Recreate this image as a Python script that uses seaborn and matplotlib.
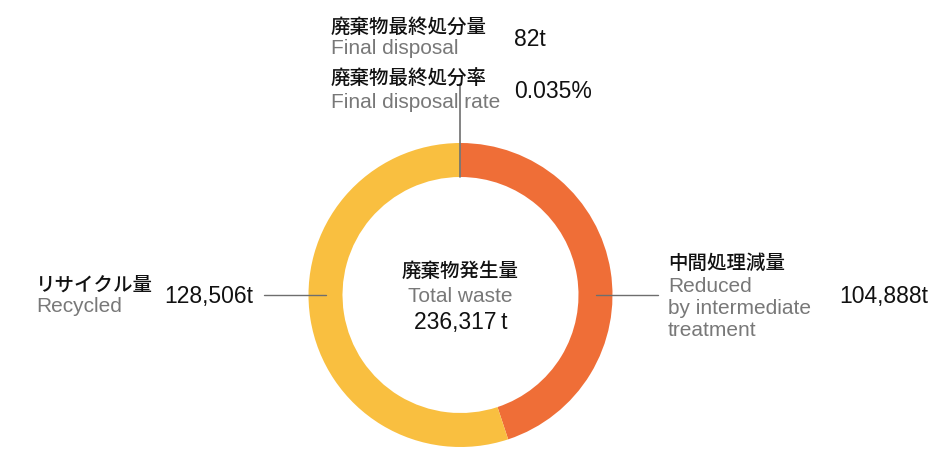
import matplotlib
matplotlib.use("Agg")
import numpy as np
import seaborn as sns
import matplotlib.pyplot as plt

# --- data ---
segments_jp = ["中間処理減量", "リサイクル量", "廃棄物最終処分量"]
segments_en = ["Reduced\nby intermediate\ntreatment", "Recycled", "Final disposal"]
amounts = [104888, 128506, 82]
amount_labels = ["104,888t", "128,506t", "82t"]
total_label = "236,317\u2009t"
rate_label = "0.035%"
seg_colors = ["#EF6E37", "#F9BF40", "#8A8A8A"]

sns.set_theme(style="white")
plt.rcParams["font.family"] = ["Liberation Sans", "DejaVu Sans", "Noto Sans CJK JP"]
JP = ["Noto Sans CJK JP", "DejaVu Sans"]
INK = "#111111"
GREY = "#787878"
LINE = "#6E6E6E"
EN_SIZE = 15
NUM_SIZE = 16.5
JP_WEIGHT = "medium"

W, H = 950, 449
fig = plt.figure(figsize=(W / 100, H / 100), dpi=100)
ax = fig.add_axes([0, 0, 1, 1])

cx, cy = 460.5, H - 295
r_out, ring = 152, 34

ax.pie(amounts, colors=seg_colors, startangle=90, counterclock=False,
       center=(cx, cy), radius=r_out,
       wedgeprops=dict(width=ring, linewidth=0))

ax.set_xlim(0, W)
ax.set_ylim(0, H)
ax.set_aspect("equal")
ax.axis("off")

def py(y):
    return H - y

r_mid = r_out - ring / 2
# leader lines
ax.plot([cx - r_mid, cx - r_mid - 62], [cy, cy], color=LINE, lw=1)
ax.plot([cx + r_mid, cx + r_mid + 62], [cy, cy], color=LINE, lw=1)
ax.plot([cx - 1, cx - 1], [cy + r_out - ring, cy + r_out + 59], color=LINE, lw=1.2)

# top block
ax.text(331, py(27), segments_jp[2], family=JP, fontsize=14, weight=JP_WEIGHT,
        color=INK, va="center")
ax.text(331, py(49), segments_en[2], fontsize=EN_SIZE, color=GREY, va="center")
ax.text(514, py(39), amount_labels[2], fontsize=NUM_SIZE, color=INK, va="center")
ax.text(331, py(79), "廃棄物最終処分率", family=JP, fontsize=14, weight=JP_WEIGHT,
        color=INK, va="center")
ax.text(331, py(102), "Final disposal rate", fontsize=EN_SIZE, color=GREY, va="center")
ax.text(514, py(91), rate_label, fontsize=NUM_SIZE, color=INK, va="center")

# left block
ax.text(36, py(285), segments_jp[1], family=JP, fontsize=14, weight=JP_WEIGHT,
        color=INK, va="center")
ax.text(36, py(306), segments_en[1], fontsize=EN_SIZE, color=GREY, va="center")
ax.text(164, py(296), amount_labels[1], fontsize=NUM_SIZE, color=INK, va="center")

# right block
ax.text(668, py(263), segments_jp[0], family=JP, fontsize=14, weight=JP_WEIGHT,
        color=INK, va="center")
for i, line in enumerate(segments_en[0].split("\n")):
    ax.text(668, py(286 + 22 * i), line, fontsize=EN_SIZE, color=GREY, va="center")
ax.text(839, py(296), amount_labels[0], fontsize=NUM_SIZE, color=INK, va="center")

# centre
ax.text(cx, py(271), "廃棄物発生量", family=JP, fontsize=14, weight=JP_WEIGHT,
        color=INK, ha="center", va="center")
ax.text(cx, py(297), "Total waste", fontsize=EN_SIZE, color=GREY, ha="center", va="center")
ax.text(cx, py(323), total_label, fontsize=NUM_SIZE, color=INK, ha="center", va="center")

fig.savefig("out.png", dpi=100)
